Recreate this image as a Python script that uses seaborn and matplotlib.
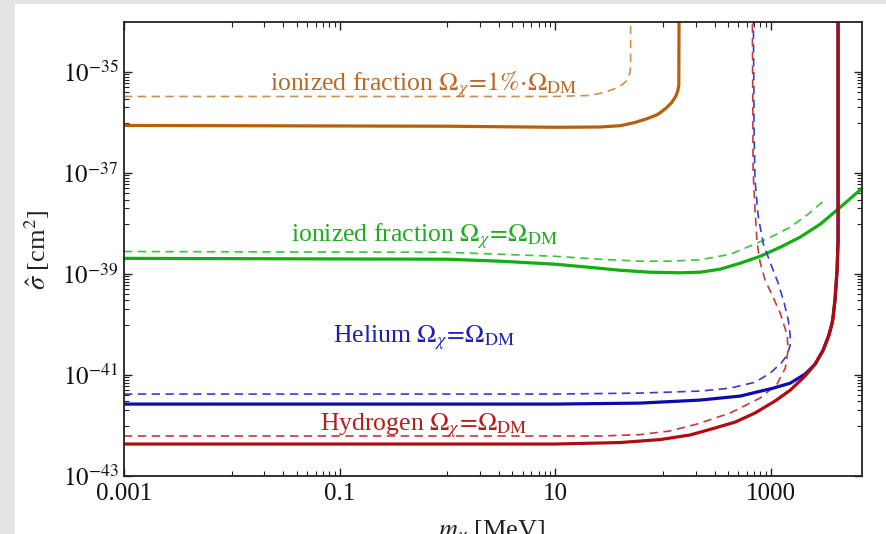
import matplotlib
matplotlib.use("Agg")
import matplotlib.pyplot as plt
from matplotlib.patches import Rectangle
from matplotlib.ticker import FixedLocator, FixedFormatter, NullFormatter
import seaborn as sns

# ---- data: dark-matter mass [MeV] vs. cross-section bound [cm^2] ----
frac_solid_mass = [1e-3, 1, 10, 26, 40, 55, 72, 89, 106, 120, 131, 137, 140, 141]
frac_solid_sigma = [8.8e-37, 8.5e-37, 8.1e-37, 8.2e-37, 8.7e-37, 1.01e-36, 1.21e-36,
                    1.45e-36, 1.91e-36, 2.5e-36, 3.3e-36, 4.3e-36, 5.6e-36, 1e-33]
frac_dash_mass = [1e-3, 10, 21, 29, 36, 42, 46, 49.5, 50, 50]
frac_dash_sigma = [3.3e-36, 3.3e-36, 3.46e-36, 4.0e-36, 4.75e-36, 5.7e-36, 6.8e-36,
                   9.9e-36, 1.36e-35, 1e-33]

ion_solid_mass = [1e-3, 1, 3.08, 10, 21, 40, 76, 144, 220, 338, 518, 795, 1220,
                  1870, 2860, 4390, 7000]
ion_solid_sigma = [2.05e-39, 1.97e-39, 1.8e-39, 1.57e-39, 1.36e-39, 1.19e-39, 1.09e-39,
                   1.06e-39, 1.09e-39, 1.25e-39, 1.64e-39, 2.25e-39, 3.4e-39, 5.4e-39,
                   9.7e-39, 2.1e-38, 5.0e-38]
ion_dash_mass = [1e-3, 1, 10, 26, 61, 116, 220, 419, 745, 1090, 1510, 2210, 3190]
ion_dash_sigma = [2.8e-39, 2.7e-39, 2.25e-39, 1.97e-39, 1.8e-39, 1.8e-39, 1.92e-39,
                  2.47e-39, 4.1e-39, 5.9e-39, 8.5e-39, 1.53e-38, 3.0e-38]

he_solid_mass = [1e-3, 10, 61, 220, 518, 1050, 1510, 2070, 2570, 3050, 3390, 3700,
                 3940, 4110, 4200, 4200]
he_solid_sigma = [2.66e-42, 2.66e-42, 2.78e-42, 3.19e-42, 3.83e-42, 5.5e-42, 6.9e-42,
                  1.04e-41, 1.64e-41, 3.1e-41, 5.6e-41, 1.06e-40, 3.0e-40, 1.2e-39,
                  4.7e-39, 1e-33]
he_dash_mass = [1e-3, 10, 61, 220, 419, 713, 984, 1245, 1415, 1510, 1510, 1450, 1330,
                1170, 984, 848, 761, 713, 698, 684]
he_dash_sigma = [4.2e-42, 4.2e-42, 4.39e-42, 4.81e-42, 5.5e-42, 7.2e-42, 1.09e-41,
                 1.72e-41, 2.48e-41, 3.9e-41, 6.2e-41, 1.22e-40, 2.65e-40, 6.6e-40,
                 1.71e-39, 4.1e-39, 1.46e-38, 7.2e-38, 7.0e-37, 1e-33]

h_solid_mass = [1e-3, 10, 40, 94, 178, 291, 466, 713, 1090, 1510, 2070, 2570, 3050,
                3470, 3780, 3940, 4110, 4200, 4200]
h_solid_sigma = [4.3e-43, 4.3e-43, 4.6e-43, 5.27e-43, 6.5e-43, 8.7e-43, 1.17e-42,
                 1.77e-42, 3.05e-42, 5.0e-42, 9.5e-42, 1.64e-41, 3.1e-41, 6.2e-41,
                 1.34e-40, 3.5e-40, 1.2e-39, 4.7e-39, 1e-33]
h_dash_mass = [1e-3, 26, 61, 116, 207, 419, 795, 1140, 1360, 1445, 1415, 1220, 1030,
               883, 795, 745, 713, 684, 670]
h_dash_sigma = [6.2e-43, 6.2e-43, 6.6e-43, 7.8e-43, 1.07e-42, 1.77e-42, 3.5e-42,
                6.6e-42, 1.37e-41, 3.1e-41, 6.2e-41, 1.68e-40, 3.8e-40, 7.6e-40,
                1.71e-39, 4.1e-39, 1.83e-38, 1.13e-37, 1e-33]

x_ticks = [1e-3, 1e-1, 1e1, 1e3]
x_tick_labels = ["0.001", "0.1", "10", "1000"]
y_ticks = [1e-43, 1e-41, 1e-39, 1e-37, 1e-35]
y_tick_labels = [r"$10^{-43}$", r"$10^{-41}$", r"$10^{-39}$", r"$10^{-37}$", r"$10^{-35}$"]

ORANGE, ORANGE_L = "#b5600f", "#d08c4c"
GREEN, GREEN_L = "#12ae12", "#3cc23c"
BLUE, BLUE_L = "#0a0ab0", "#3a3ad2"
RED, RED_L = "#b00c10", "#c43a3a"

# ---- style ----
sns.set_theme(style="ticks")
plt.rcParams["font.family"] = ["Liberation Serif", "DejaVu Serif"]
plt.rcParams["mathtext.fontset"] = "stix"

fig = plt.figure(figsize=(8.86, 5.34), dpi=100)
fig.patch.set_facecolor("#e4e4e4")
fig.add_artist(Rectangle((15 / 886, 0), 1, 1 - 4 / 534, transform=fig.transFigure,
                         facecolor="white", edgecolor="none", zorder=-5))

ax = fig.add_axes([124 / 886, 1 - 476 / 534, (862 - 124) / 886, (476 - 21.7) / 534])
ax.set_facecolor("white")
ax.set_xscale("log")
ax.set_yscale("log")

dash = (0, (5, 3.3))
solid_lw, dash_lw = 2.3, 1.2

def curve(mass, sigma, color, lw, ls="-"):
    sns.lineplot(x=mass, y=sigma, ax=ax, sort=False, estimator=None,
                 color=color, lw=lw, linestyle=ls)

curve(frac_dash_mass, frac_dash_sigma, ORANGE_L, dash_lw, dash)
curve(frac_solid_mass, frac_solid_sigma, ORANGE, solid_lw)
curve(ion_dash_mass, ion_dash_sigma, GREEN_L, dash_lw, dash)
curve(ion_solid_mass, ion_solid_sigma, GREEN, solid_lw)
curve(he_dash_mass, he_dash_sigma, BLUE_L, dash_lw, dash)
curve(h_dash_mass, h_dash_sigma, RED_L, dash_lw, dash)
curve(he_solid_mass, he_solid_sigma, BLUE, solid_lw)
curve(h_solid_mass, h_solid_sigma, RED, solid_lw)
for ln in ax.get_lines():
    ln.set_solid_joinstyle("round")

ax.set_xlim(1e-3, 7000)
ax.set_ylim(1e-43, 1e-34)

# Major ticks every two decades; minor ticks fill the decade below each major
ax.xaxis.set_major_locator(FixedLocator(x_ticks))
ax.xaxis.set_major_formatter(FixedFormatter(x_tick_labels))
ax.xaxis.set_minor_locator(FixedLocator([m * 10.0 ** e for e in (-2, 0, 2) for m in range(1, 10)]))
ax.xaxis.set_minor_formatter(NullFormatter())
ax.yaxis.set_major_locator(FixedLocator(y_ticks))
ax.yaxis.set_major_formatter(FixedFormatter(y_tick_labels))
ax.yaxis.set_minor_locator(FixedLocator([m * 10.0 ** e for e in (-42, -40, -38, -36) for m in range(1, 10)]))
ax.yaxis.set_minor_formatter(NullFormatter())

ax.tick_params(which="both", direction="in", top=True, right=True, color="#222222")
ax.tick_params(which="major", length=6, width=1.0, labelsize=18, pad=4,
               labelcolor="#111111")
ax.tick_params(which="minor", length=3.5, width=0.8)
ax.tick_params(axis="x", pad=5)
for s in ax.spines.values():
    s.set_linewidth(1.3)
    s.set_color("#222222")
ax.set_xlabel("")
ax.set_ylabel("")

lab = dict(ha="center", va="center", fontsize=18.5, transform=ax.transAxes)
ax.text(0.4065, 0.862, r"ionized fraction $\Omega_\chi\!=\!1\%\!\cdot\!\Omega_{\rm DM}$", color="#b86a28", **lab)
ax.text(0.4065, 0.528, r"ionized fraction $\Omega_\chi\!=\!\Omega_{\rm DM}$", color="#22aa22", **lab)
ax.text(0.4065, 0.304, r"Helium $\Omega_\chi\!=\!\Omega_{\rm DM}$", color="#1e1eb0", **lab)
ax.text(0.4065, 0.110, r"Hydrogen $\Omega_\chi\!=\!\Omega_{\rm DM}$", color="#b01e1e", **lab)

fig.text(37 / 886, 1 - 250 / 534, r"$\hat{\sigma}$ [cm$^2$]", rotation=90,
         ha="center", va="center", fontsize=19, color="#222222")
fig.text(492 / 886, 1 - 519 / 534, r"$m_\chi$ [MeV]", ha="center", va="top",
         fontsize=19, color="#222222")

fig.savefig("out.png", dpi=100, facecolor=fig.get_facecolor())
